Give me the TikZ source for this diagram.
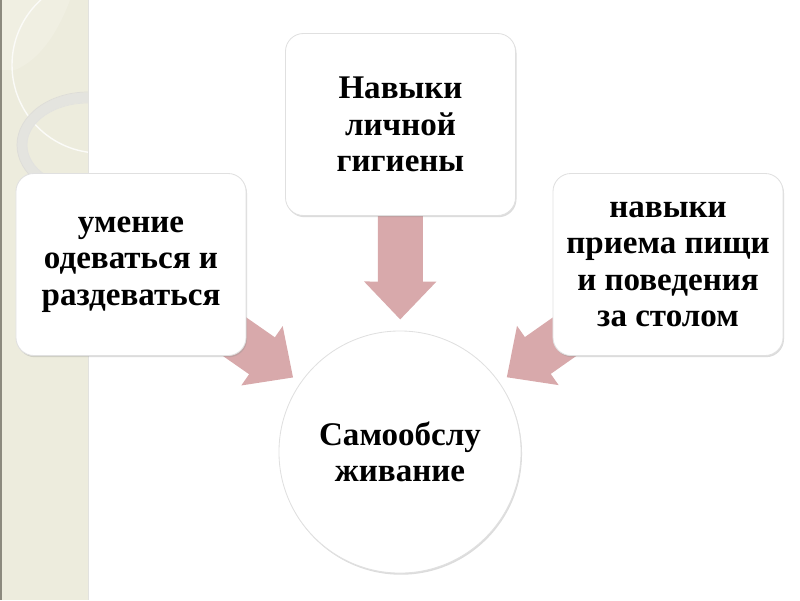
\documentclass[tikz,border=0pt]{standalone}
\usepackage{fontspec}
\setmainfont{Liberation Serif}
\usetikzlibrary{arrows.meta,shadows,backgrounds}

\definecolor{stripbg}{RGB}{237,236,221}
\definecolor{stripedge}{RGB}{140,138,126}
\definecolor{ringgray}{RGB}{228,228,223}
\definecolor{arrowpink}{RGB}{216,169,171}
\definecolor{boxline}{RGB}{224,224,224}

\tikzset{
  skill/.style={draw=boxline, line width=0.6pt, fill=white,
    rounded corners=0.45cm, minimum width=5.75cm, minimum height=4.55cm,
    align=center, font=\bfseries\fontsize{23.5}{25.8}\selectfont,
    drop shadow={shadow xshift=0.7pt, shadow yshift=-1.2pt, opacity=0.3, fill=black!45}},
  core/.style={circle, draw=boxline, line width=0.6pt, fill=white,
    minimum size=6.05cm, inner sep=0pt, align=center,
    font=\bfseries\fontsize{23.5}{25.8}\selectfont,
    drop shadow={shadow xshift=0.7pt, shadow yshift=-1.2pt, opacity=0.3, fill=black!45}},
  bigarrow/.style={draw=arrowpink, line width=1.125cm,
    -{Triangle[width=1.75cm, length=0.95cm]}, shorten <=-0.5cm}
}

\begin{document}
\begin{tikzpicture}[x=0.025cm, y=-0.025cm]
  \useasboundingbox (0,0) rectangle (800,600);

  % decorative strip on the left
  \fill[stripbg] (0,0) rectangle (88,600);
  \begin{scope}
    \clip (0,0) rectangle (88,600);
    \fill[stripbg!85!white] (0,0) -- (70,0) .. controls (55,40) and (35,62) .. (15,70) -- (0,70) -- cycle;
    \draw[white!80!stripbg, line width=1pt] (100,65) circle (88);
    \draw[ringgray, line width=0.25cm] (88,145) ellipse [x radius=66, y radius=47.5];
    \draw[stripedge!30, line width=0.5pt] (88,145) ellipse [x radius=71, y radius=53];
    \draw[stripedge!25, line width=0.5pt] (88,145) ellipse [x radius=61, y radius=42];
  \end{scope}
  \fill[stripedge] (0,0) rectangle (2,600);
  \draw[stripedge!25, line width=0.6pt] (88,0) -- (88,600);

  % boxes and the centre
  \node[skill] (hyg) at (400.5,124.5) {Навыки\\личной\\гигиены};
  \node[skill] (dress) at (131,264.5) {умение\\одеваться и\\раздеваться};
  \node[skill] (meal) at (668,264.5) {навыки\\приема пищи\\и поведения\\за столом};
  \node[core] (self) at (400,452) {Самообслу\\живание};

  % arrows into the centre
  \begin{scope}[on background layer]
    \draw[bigarrow, shorten >=0.275cm] (hyg) -- (self);
    \draw[bigarrow, shorten >=0.22cm] (dress) -- (self);
    \draw[bigarrow, shorten >=0.22cm] (meal) -- (self);
  \end{scope}
\end{tikzpicture}
\end{document}
